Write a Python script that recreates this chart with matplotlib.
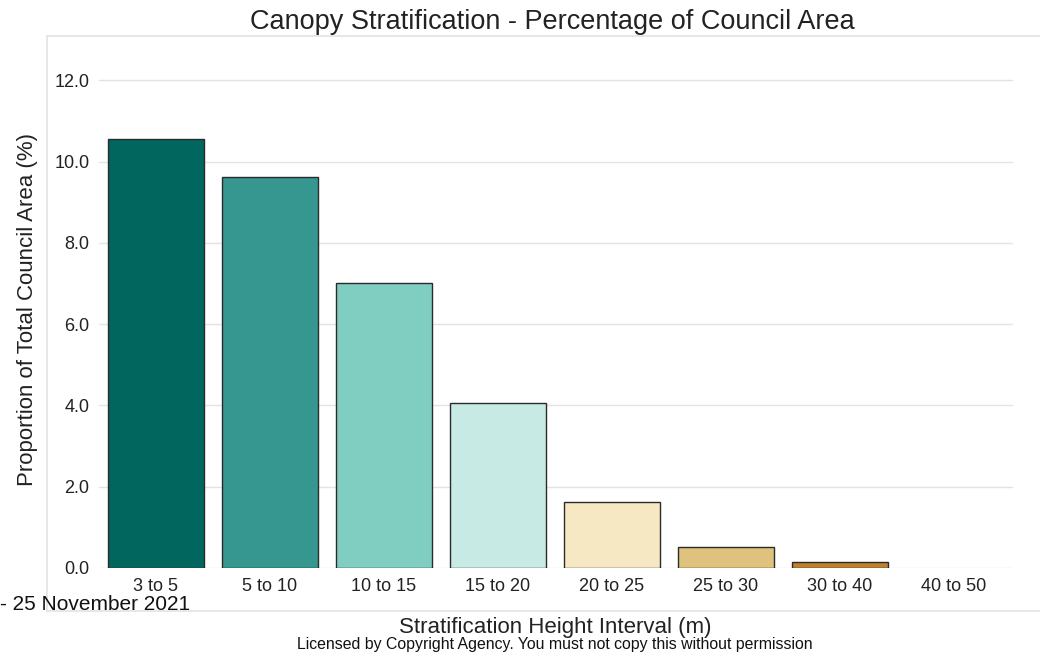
import matplotlib.pyplot as plt
from matplotlib.lines import Line2D

plt.rcParams['font.family'] = ['Liberation Sans', 'DejaVu Sans']

# values
intervals = ['3 to 5', '5 to 10', '10 to 15', '15 to 20', '20 to 25', '25 to 30', '30 to 40', '40 to 50']
proportion = [10.55, 9.61, 7.01, 4.05, 1.62, 0.52, 0.15, 0.0]
bar_colours = ['#01665e', '#35978f', '#80cdc1', '#c7eae5', '#f6e8c3', '#dfc27d', '#bf812d', '#8c510a']
y_ticks = [0, 2, 4, 6, 8, 10, 12]

W, H = 1040, 653
fig = plt.figure(figsize=(W / 100, H / 100), dpi=100)
ax = fig.add_axes([99 / W, 1 - 568 / H, (1013 - 99) / W, (568 - 62) / H])

x = list(range(len(intervals)))
# empty bars get no outline
edge_w = [1.0 if v > 0 else 0.0 for v in proportion]
ax.bar(x, proportion, width=0.84, color=bar_colours, edgecolor='#2b2b2b', linewidth=edge_w, zorder=3)

ax.set_xlim(-0.5, 7.52)
ax.set_ylim(0, 12.45)
ax.set_yticks(y_ticks)
ax.set_yticklabels(['{:.1f}'.format(v) for v in y_ticks])
ax.set_xticks(x)
ax.set_xticklabels(intervals)
ax.tick_params(axis='both', labelsize=13, colors='#222222', length=0)
ax.tick_params(axis='x', pad=7)
ax.tick_params(axis='y', pad=7)
ax.grid(axis='y', color='#e3e3e3', linewidth=1.0, zorder=0)
for s in ax.spines.values():
    s.set_visible(False)

fig.text(28 / W, 1 - 310 / H, 'Proportion of Total Council Area (%)', rotation=90,
         ha='center', va='center', fontsize=16, color='#222222')
fig.text(552 / W, 1 - 22 / H, 'Canopy Stratification - Percentage of Council Area',
         ha='center', va='center', fontsize=19.5, color='#222222')
fig.text(555 / W, 1 - 627 / H, 'Stratification Height Interval (m)',
         ha='center', va='center', fontsize=16, color='#222222')
fig.text(555 / W, 1 - 645 / H, 'Licensed by Copyright Agency. You must not copy this without permission',
         ha='center', va='center', fontsize=11.4, color='#111111')
fig.text(0.0, 1 - 605 / H, '- 25 November 2021', ha='left', va='center', fontsize=15, color='#111111')

# light frame around the chart panel
frame = '#e3e3e3'
fig.add_artist(Line2D([47 / W, 47 / W], [1 - 611 / H, 1 - 36 / H], color=frame, linewidth=1.2))
fig.add_artist(Line2D([47 / W, 1.0], [1 - 611 / H, 1 - 611 / H], color=frame, linewidth=1.2))
fig.add_artist(Line2D([47 / W, 1.0], [1 - 36 / H, 1 - 36 / H], color=frame, linewidth=1.2))

fig.savefig('out.png', dpi=100, facecolor='white')
